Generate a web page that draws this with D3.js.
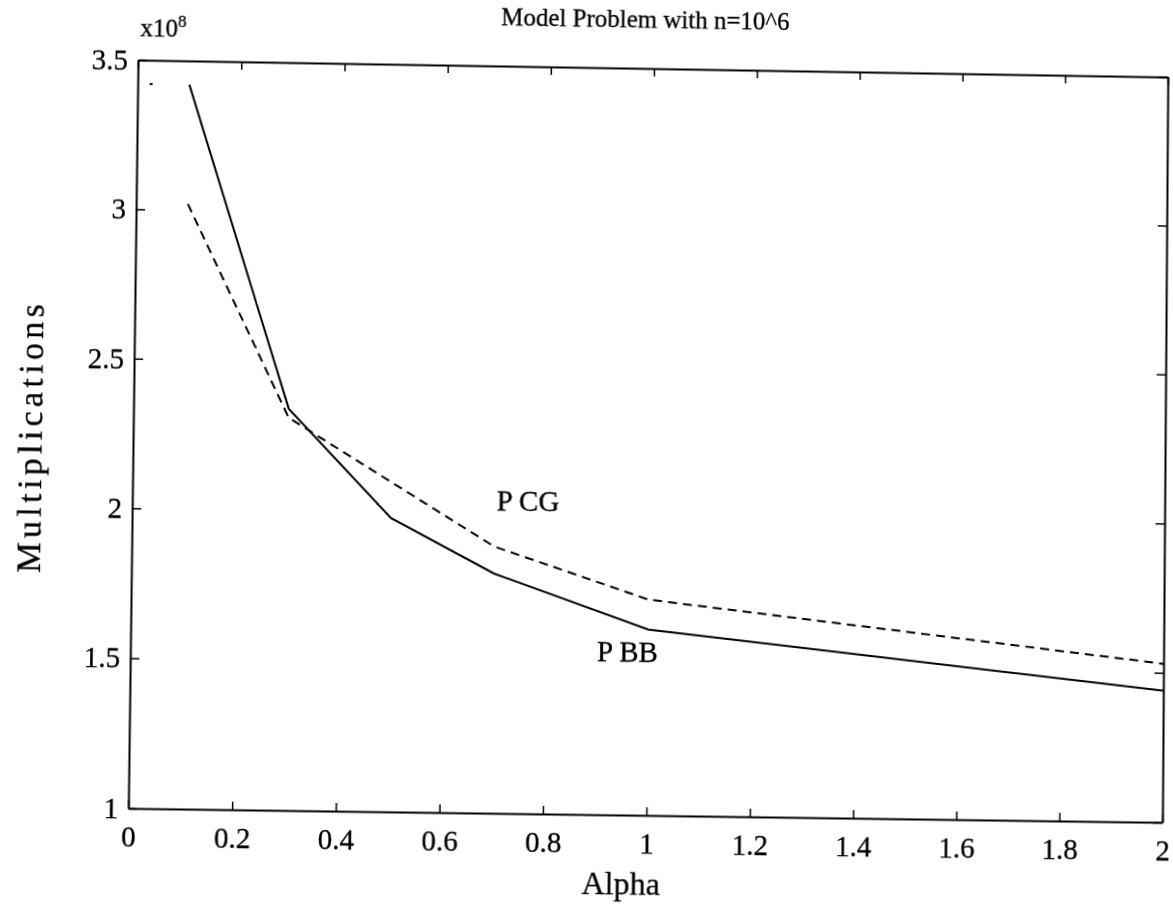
<!DOCTYPE html>
<meta charset="utf-8">
<script src="https://cdn.jsdelivr.net/npm/d3@7"></script>
<style>
body { margin: 0; background: #fff; }
#page { position: absolute; left: 0; top: 0; width: 1173px; height: 918px; transform-origin: 0 0; }
text { font-family: "Liberation Serif", "Times New Roman", serif; fill: #000; stroke: #000; stroke-width: 0.3px; }
.axis path { stroke: #000; stroke-width: 2px; }
.axis line { stroke: #000; stroke-width: 1.5px; }
.axis text { font-size: 29px; }
path.line { fill: none; stroke: #000; stroke-width: 2px; }
path.dash { stroke-dasharray: 9, 6; }
</style>
<body>
<div id="page"></div>
<script>
// values
var alpha = [0.1, 0.3, 0.5, 0.7, 1.0, 2.0];
var pbb = [3.42, 2.34, 1.98, 1.80, 1.62, 1.44];   // solid
var pcg = [3.02, 2.31, 2.10, 1.89, 1.72, 1.53];   // dashed
var xTicks = [0, 0.2, 0.4, 0.6, 0.8, 1, 1.2, 1.4, 1.6, 1.8, 2];
var yTicks = [1, 1.5, 2, 2.5, 3, 3.5];
var speck = [[0.026, 3.42]];

var width = 1173, height = 918;
var m = {l: 133, r: 1165, t: 68, b: 815};

var svg = d3.select("#page").append("svg")
    .attr("width", width)
    .attr("height", height);

var x = d3.scaleLinear().domain([0, 2]).range([m.l, m.r]);
var y = d3.scaleLinear().domain([1, 3.5]).range([m.b, m.t]);

// frame with inward ticks on all four sides
svg.append("g").attr("class", "axis")
    .attr("transform", "translate(0," + m.b + ")")
    .call(d3.axisBottom(x).tickValues(xTicks).tickSize(-8).tickSizeOuter(0)
        .tickPadding(17).tickFormat(function(d) { return String(d); }));
svg.append("g").attr("class", "axis")
    .attr("transform", "translate(0," + m.t + ")")
    .call(d3.axisTop(x).tickValues(xTicks).tickSize(-8).tickSizeOuter(0).tickFormat(""));
svg.append("g").attr("class", "axis")
    .attr("transform", "translate(" + m.l + ",0)")
    .call(d3.axisLeft(y).tickValues(yTicks).tickSize(-9).tickSizeOuter(0)
        .tickPadding(10).tickFormat(function(d) { return String(d); }));
svg.append("g").attr("class", "axis")
    .attr("transform", "translate(" + m.r + ",0)")
    .call(d3.axisRight(y).tickValues(yTicks).tickSize(-9).tickSizeOuter(0).tickFormat(""));
svg.selectAll(".axis .tick text").attr("fill", "#000");

var line = d3.line()
    .x(function(d) { return x(d[0]); })
    .y(function(d) { return y(d[1]); });

svg.append("path").attr("class", "line")
    .attr("d", line(d3.zip(alpha, pbb)));
svg.append("path").attr("class", "line dash")
    .attr("d", line(d3.zip(alpha, pcg)));

svg.selectAll("rect.speck").data(speck).enter().append("rect")
    .attr("class", "speck")
    .attr("x", function(d) { return x(d[0]) - 1.5; })
    .attr("y", function(d) { return y(d[1]) - 1; })
    .attr("width", 3).attr("height", 2);

// curve labels
svg.append("text").attr("x", x(0.704)).attr("y", y(2.011))
    .style("font-size", "29px").text("P CG");
svg.append("text").attr("x", x(0.901)).attr("y", y(1.511))
    .style("font-size", "29px").text("P BB");

// title, exponent, axis labels
svg.append("text").attr("x", 640).attr("y", 27)
    .attr("text-anchor", "middle").style("font-size", "25px")
    .text("Model Problem with n=10^6");
var ex = svg.append("text").attr("x", m.l + 2).attr("y", 44).style("font-size", "25px");
ex.append("tspan").text("x10");
ex.append("tspan").attr("dy", -10).style("font-size", "17px").text("8");

svg.append("text").attr("x", 624).attr("y", 894)
    .attr("text-anchor", "middle").style("font-size", "32px").text("Alpha");
svg.append("text").attr("transform", "translate(42,448) rotate(-90)")
    .attr("text-anchor", "middle").style("font-size", "34px")
    .attr("textLength", 268).attr("lengthAdjust", "spacing")
    .text("Multiplications");

// the scan is slightly skewed: map the flat frame onto the measured corners
function homography(src, dst) {
    var A = [];
    for (var i = 0; i < 4; i++) {
        var sx = src[i][0], sy = src[i][1], X = dst[i][0], Y = dst[i][1];
        A.push([sx, sy, 1, 0, 0, 0, -sx * X, -sy * X, X]);
        A.push([0, 0, 0, sx, sy, 1, -sx * Y, -sy * Y, Y]);
    }
    var n = 8;
    for (var c = 0; c < n; c++) {
        var p = c;
        for (var r = c + 1; r < n; r++) if (Math.abs(A[r][c]) > Math.abs(A[p][c])) p = r;
        var tmp = A[c]; A[c] = A[p]; A[p] = tmp;
        for (var r2 = 0; r2 < n; r2++) {
            if (r2 == c) continue;
            var f = A[r2][c] / A[c][c];
            for (var k = c; k <= n; k++) A[r2][k] -= f * A[c][k];
        }
    }
    return A.map(function(row, i) { return row[n] / row[i]; });
}
var h = homography(
    [[m.l, m.t], [m.r, m.t], [m.l, m.b], [m.r, m.b]],
    [[138, 60], [1167.7, 77], [128.3, 808.3], [1162.3, 822.3]]);
d3.select("#page").style("transform", "matrix3d(" +
    [h[0], h[3], 0, h[6], h[1], h[4], 0, h[7], 0, 0, 1, 0, h[2], h[5], 0, 1].join(",") + ")");
</script>
</body>
</html>
